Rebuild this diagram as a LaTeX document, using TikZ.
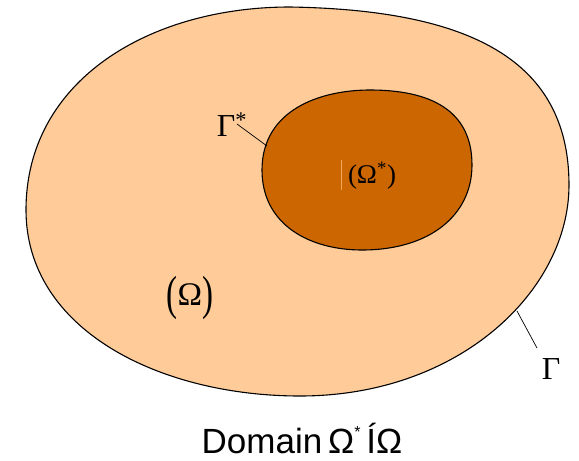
\documentclass[tikz,border=0pt]{standalone}
\usepackage{fontspec}
\usepackage{graphicx}
\usepackage{xcolor}
\usepackage{tikz}
\setsansfont{Liberation Sans}
\newfontfamily\greekfont{Liberation Serif}
\definecolor{peach}{HTML}{FFCC99}
\definecolor{rust}{HTML}{CC6600}
\definecolor{rustsoft}{HTML}{F2A65A}
\newcommand\tallparen[1]{\raisebox{-0.12em}{\scalebox{1}[1.45]{#1}}}

\begin{document}
\begin{tikzpicture}[x=1pt,y=-1pt,line join=round]
\useasboundingbox (0,0) rectangle (579,461);
% outer domain
\draw[fill=peach,line width=1.1pt] (290,7) .. controls (470,10) and (569,60) .. (569,185)
  .. controls (569,290) and (460,396) .. (300,396)
  .. controls (160,396) and (26,330) .. (26,210)
  .. controls (26,80) and (150,7) .. cycle;
% inner domain
\draw[fill=rust,line width=1.1pt] (370,90) .. controls (430,90) and (472,110) .. (472,165)
  .. controls (472,215) and (430,250) .. (362,250)
  .. controls (310,250) and (262,225) .. (262,170)
  .. controls (262,110) and (320,90) .. cycle;
\draw[rustsoft,line width=0.5pt] (341,160)--(341,190);
% labels
\node (om) at (190,298) {\fontsize{33}{38}\selectfont\greekfont\tallparen{(}Ω\tallparen{)}};
\node (oms) at (372,176) {\fontsize{27}{32}\selectfont\greekfont(Ω\textsuperscript{*})};
\node (gs) at (232,125) {\fontsize{32}{36}\selectfont\greekfont Γ\textsuperscript{*}};
\node (g) at (551,369) {\fontsize{32}{36}\selectfont\greekfont Γ};
\coordinate (gsa) at (237,124);
\coordinate (gsb) at (267,146);
\coordinate (ga) at (517,311);
\coordinate (gb) at (537,348);
\draw[line width=0.7pt] (gsa)--(gsb);
\draw[line width=0.7pt] (ga)--(gb);
\node[anchor=base] (cap) at (302,453) {\fontsize{35}{40}\selectfont\sffamily Domain\,Ω\raisebox{0.45em}{\fontsize{16}{18}\selectfont *}\,ÍΩ};
\end{tikzpicture}
\end{document}
